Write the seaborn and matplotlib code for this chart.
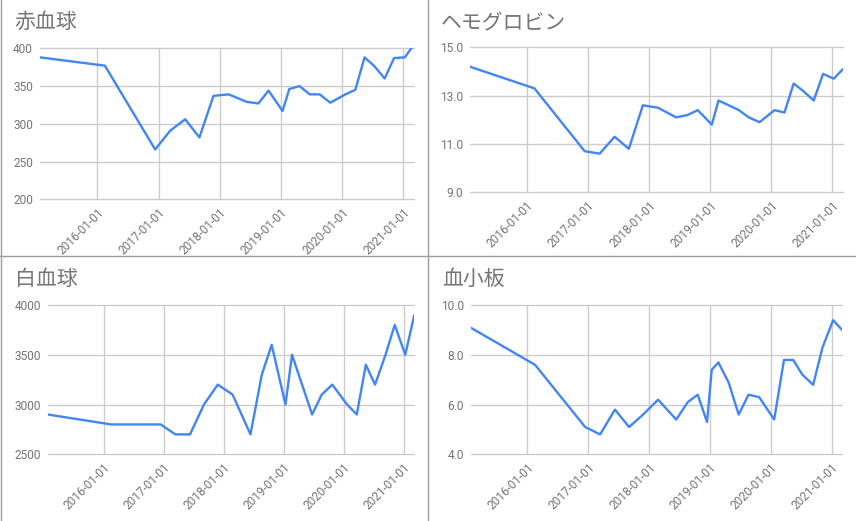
import pandas as pd
import matplotlib
matplotlib.use('Agg')
import matplotlib.pyplot as plt
import matplotlib.dates as mdates
from matplotlib.lines import Line2D
from matplotlib.ticker import FormatStrFormatter
import seaborn as sns

# measurement dates shared by all four series
dates = pd.to_datetime([
    '2015-01-25', '2016-02-16', '2016-12-12', '2017-03-12', '2017-06-09',
    '2017-09-02', '2017-11-25', '2018-02-23', '2018-06-12', '2018-08-20',
    '2018-10-19', '2018-12-14', '2019-01-11', '2019-02-20', '2019-04-22',
    '2019-06-22', '2019-08-20', '2019-10-23', '2020-01-21', '2020-03-20',
    '2020-05-14', '2020-07-09', '2020-09-11', '2020-11-06', '2021-01-09',
    '2021-03-05',
])

rbc = [388, 377, 266, 291, 306, 282, 337, 339, 329, 327, 344, 326, 317,
       346, 350, 339, 339, 328, 339, 345, 388, 377, 360, 387, 388, 405]
hgb = [14.2, 13.3, 10.7, 10.6, 11.3, 10.8, 12.6, 12.5, 12.1, 12.2, 12.4,
       12.0, 11.8, 12.8, 12.6, 12.4, 12.1, 11.9, 12.4, 12.3, 13.5, 13.2,
       12.8, 13.9, 13.7, 14.1]
wbc = [2900, 2800, 2800, 2700, 2700, 3000, 3200, 3100, 2700, 3300, 3600,
       3200, 3000, 3500, 3200, 2900, 3100, 3200, 3000, 2900, 3400, 3200,
       3500, 3800, 3500, 3900]
plt_count = [9.1, 7.6, 5.1, 4.8, 5.8, 5.1, 5.6, 6.2, 5.4, 6.1, 6.4, 5.3,
             7.4, 7.7, 6.9, 5.6, 6.4, 6.3, 5.4, 7.8, 7.8, 7.2, 6.8, 8.3,
             9.4, 9.0]

titles = ['赤血球', 'ヘモグロビン', '白血球', '血小板']
series = [rbc, hgb, wbc, plt_count]
yticks = [[200, 250, 300, 350, 400], [9, 11, 13, 15],
          [2500, 3000, 3500, 4000], [4, 6, 8, 10]]
yfmt = ['%d', '%.1f', '%d', '%.1f']
year_ticks = pd.to_datetime(['2016-01-01', '2017-01-01', '2018-01-01',
                             '2019-01-01', '2020-01-01', '2021-01-01'])

sns.set_style('white')
plt.rcParams['font.family'] = ['Roboto', 'Noto Sans CJK JP', 'DejaVu Sans']

W, H = 856, 521
fig = plt.figure(figsize=(W / 100, H / 100), dpi=100)

# plot boxes in pixels: left, top, right, bottom ; title x, title baseline
boxes = [(40, 48.3, 414, 199.3), (469.7, 47.3, 843, 192.3),
         (47.7, 305, 414.3, 454.3), (470.7, 305.3, 842.3, 454.3)]
title_pos = [(14, 28), (441, 28), (15, 285), (442, 285)]

blue = '#4285f4'
grid_c = '#cccccc'
text_c = '#757575'

for i in range(4):
    l, t, r, b = boxes[i]
    ax = fig.add_axes([l / W, 1 - b / H, (r - l) / W, (b - t) / H])
    sns.lineplot(x=dates, y=series[i], ax=ax, color=blue, linewidth=1.7)
    ax.set_xlim(dates.min(), dates.max())
    ax.set_ylim(yticks[i][0], yticks[i][-1])
    ax.set_yticks(yticks[i])
    ax.yaxis.set_major_formatter(FormatStrFormatter(yfmt[i]))
    ax.set_xticks(year_ticks)
    ax.xaxis.set_major_formatter(mdates.DateFormatter('%Y-%m-%d'))
    ax.grid(True, color=grid_c, linewidth=1)
    ax.set_axisbelow(True)
    for gl in ax.get_ygridlines():
        gl.set_clip_on(False)
    for s in ax.spines.values():
        s.set_visible(False)
    ax.tick_params(axis='both', length=0, colors=text_c, labelsize=8.6)
    ax.tick_params(axis='y', pad=5)
    ax.tick_params(axis='x', pad=5)
    for lab in ax.get_xticklabels():
        lab.set_rotation(45)
        lab.set_ha('right')
        lab.set_va('top')
        lab.set_rotation_mode('anchor')
    ax.set_xlabel('')
    ax.set_ylabel('')
    fig.text(title_pos[i][0] / W, 1 - title_pos[i][1] / H, titles[i],
             fontsize=15, color=text_c, va='baseline', ha='left')

# panel dividers
div_c = '#9e9e9e'
fig.add_artist(Line2D([427.7 / W, 427.7 / W], [0, 1], color=div_c, linewidth=1))
fig.add_artist(Line2D([0, 1], [1 - 255.7 / H, 1 - 255.7 / H], color=div_c, linewidth=1))
fig.add_artist(Line2D([0.6 / W, 0.6 / W], [0, 1], color=div_c, linewidth=1))

fig.savefig('out.png', dpi=100)
